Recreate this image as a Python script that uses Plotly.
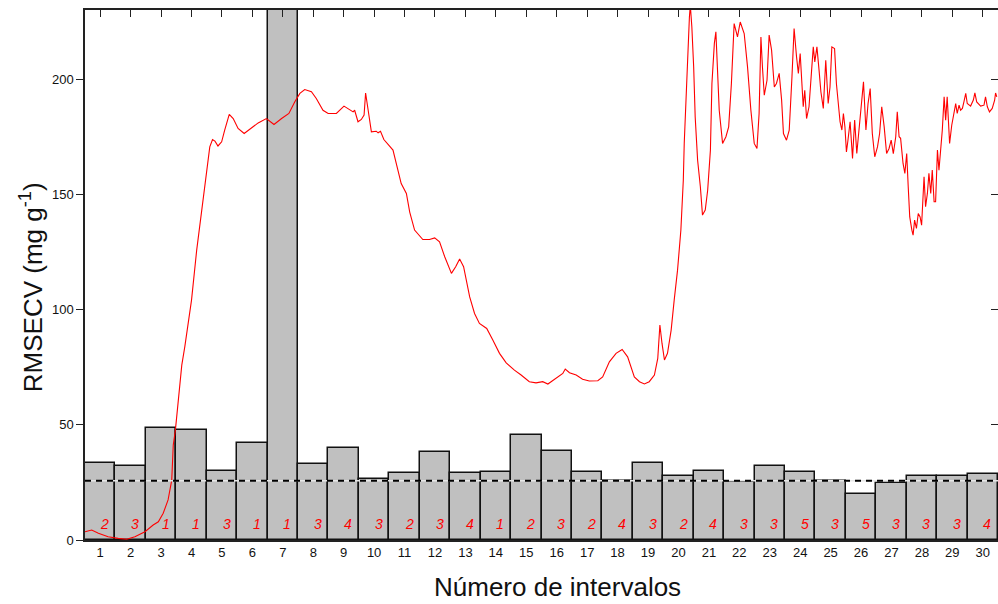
import plotly.graph_objects as go

intervals = list(range(1, 31))
rmsecv = [33.3, 32.0, 48.7, 47.7, 29.8, 42.1, 260.0, 33.1, 39.8, 26.5,
          28.9, 38.3, 28.9, 29.5, 45.4, 38.8, 29.5, 25.7, 33.3, 27.9,
          29.8, 25.3, 32.2, 29.5, 25.7, 20.0, 24.7, 27.9, 27.9, 28.5]
n_vl = [2, 3, 1, 1, 3, 1, 1, 3, 4, 3, 2, 3, 4, 1, 2, 3, 2, 4, 3, 2,
        4, 3, 3, 5, 3, 5, 3, 3, 3, 4]
global_rmsecv = 25.7

# mean spectrum drawn over the intervals (position in interval units, value in plot units)
spec_x = [0.50, 0.72, 0.94, 1.26, 1.59, 1.87, 2.14, 2.47, 2.74, 2.91, 3.07, 3.23, 3.35, 3.40,
          3.47, 3.57, 3.68, 3.78, 4.00, 4.17, 4.31, 4.42, 4.53, 4.60, 4.69, 4.77, 4.87, 4.99,
          5.09, 5.24, 5.37, 5.53, 5.73, 5.97, 6.19, 6.46, 6.71, 6.96, 7.20, 7.39, 7.56, 7.72,
          7.94, 8.10, 8.32, 8.49, 8.76, 9.01, 9.20, 9.31, 9.36, 9.47, 9.58, 9.67, 9.72, 9.80,
          9.91, 10.07, 10.13, 10.21, 10.32, 10.62, 10.78, 10.89, 11.06, 11.17, 11.33, 11.60,
          11.82, 11.99, 12.15, 12.32, 12.54, 12.68, 12.81, 12.94, 13.14, 13.30, 13.46, 13.70,
          13.90, 14.12, 14.34, 14.61, 14.83, 15.10, 15.32, 15.54, 15.71, 15.98, 16.20, 16.28,
          16.42, 16.64, 16.85, 17.07, 17.35, 17.51, 17.73, 17.95, 18.15, 18.33, 18.55, 18.72,
          18.88, 19.04, 19.21, 19.32, 19.39, 19.46, 19.54, 19.64, 19.76, 19.86, 19.97, 20.08,
          20.16, 20.19, 20.25, 20.30, 20.36, 20.39, 20.44, 20.50, 20.55, 20.63, 20.72, 20.79,
          20.88, 20.96, 21.05, 21.10, 21.18, 21.23, 21.28, 21.34, 21.45, 21.56, 21.65, 21.74,
          21.83, 21.89, 21.94, 22.03, 22.16, 22.27, 22.38, 22.49, 22.58, 22.65, 22.71, 22.76,
          22.82, 22.91, 22.98, 23.06, 23.15, 23.22, 23.31, 23.39, 23.45, 23.55, 23.64, 23.73,
          23.80, 23.88, 23.94, 24.00, 24.05, 24.10, 24.15, 24.21, 24.29, 24.37, 24.43, 24.48,
          24.55, 24.62, 24.68, 24.76, 24.84, 24.92, 24.98, 25.04, 25.13, 25.19, 25.26, 25.31,
          25.37, 25.42, 25.47, 25.52, 25.57, 25.64, 25.72, 25.79, 25.86, 25.94, 26.01, 26.08,
          26.16, 26.23, 26.30, 26.37, 26.45, 26.54, 26.61, 26.68, 26.76, 26.84, 26.92, 26.99,
          27.06, 27.14, 27.19, 27.25, 27.30, 27.38, 27.44, 27.50, 27.55, 27.60, 27.67, 27.71,
          27.76, 27.82, 27.88, 27.94, 27.99, 28.07, 28.12, 28.18, 28.23, 28.29, 28.34, 28.40,
          28.45, 28.51, 28.56, 28.62, 28.67, 28.73, 28.78, 28.83, 28.91, 28.98, 29.05, 29.11,
          29.16, 29.22, 29.27, 29.33, 29.38, 29.44, 29.49, 29.60, 29.69, 29.74, 29.80, 29.93,
          30.04, 30.09, 30.15, 30.22, 30.31, 30.39, 30.42, 30.46]
spec_y = [3.6, 4.3, 2.9, 1.4, 0.7, 0.3, 1.4, 3.6, 6.5, 7.9, 11.6, 17.4, 26.0, 41.2,
          47.7, 62.9, 75.9, 83.9, 104.1, 125.8, 140.2, 153.3, 164.8, 170.6, 173.8, 173.1, 171.0, 172.8,
          177.9, 184.7, 182.9, 178.6, 176.4, 178.6, 181.0, 182.9, 180.3, 182.9, 185.1, 190.1, 193.8, 195.5,
          194.5, 191.6, 186.5, 185.1, 185.1, 188.3, 186.8, 185.8, 186.5, 181.5, 182.5, 184.4, 194.0, 186.5,
          177.1, 177.4, 176.7, 177.4, 173.8, 169.2, 160.5, 154.7, 150.4, 142.3, 134.5, 130.4,
          130.4, 131.1, 129.4, 122.9, 115.7, 118.6, 121.9, 118.6, 105.5, 98.3, 94.0, 91.8,
          86.8, 81.0, 76.9, 73.7, 71.6, 68.7, 68.2, 68.7, 67.7, 70.4, 72.3, 74.2,
          72.6, 71.6, 69.8, 69.0, 69.1, 70.8, 77.3, 81.0, 82.7, 79.5, 70.8, 68.7,
          67.7, 68.7, 71.6, 78.8, 93.3, 85.3, 78.1, 81.0, 91.1, 104.1, 117.1, 134.5,
          156.2, 172.1, 190.9, 212.6, 227.0, 232.0, 222.7, 205.3, 183.6, 164.8, 153.3, 141.0,
          143.2, 151.8, 169.2, 198.1, 215.5, 220.5, 205.3, 186.5, 172.1, 175.0, 179.3, 198.1,
          224.1, 220.5, 218.3, 224.8, 219.8, 205.3, 186.5, 172.1, 169.9, 185.1, 218.3, 205.3,
          193.0, 199.5, 219.1, 212.6, 196.6, 198.1, 202.5, 190.9, 176.4, 173.5, 177.9, 201.0,
          222.0, 209.7, 202.5, 211.1, 201.0, 188.0, 195.2, 182.9, 188.0, 201.0, 214.0, 207.5,
          214.0, 203.9, 194.5, 187.3, 208.2, 189.4, 196.6, 214.0, 213.3, 198.1, 186.5, 181.5,
          177.9, 185.1, 179.3, 168.4, 173.5, 181.5, 165.6, 182.2, 167.7, 179.3, 188.0, 198.8,
          177.9, 189.4, 195.9, 176.4, 166.3, 170.6, 176.4, 188.0, 179.3, 167.7, 169.9, 173.5,
          167.7, 175.0, 185.8, 175.0, 174.3, 163.4, 159.1, 167.7, 153.3, 140.2, 134.5, 132.3,
          138.8, 135.2, 141.7, 140.2, 136.6, 157.6, 144.6, 150.4, 159.1, 150.4, 160.5, 146.8,
          146.8, 169.2, 160.5, 169.2, 177.9, 192.3, 182.2, 192.3, 172.1, 180.0, 184.4, 189.4,
          185.1, 188.7, 186.5, 187.3, 190.1, 193.8, 189.4, 188.3, 190.9, 194.0, 190.1, 188.3,
          188.7, 192.3, 188.0, 185.8, 187.3, 190.9, 194.0, 192.3]

x_title = "Número de intervalos"
y_title = "RMSECV (mg g<sup>-1</sup>)"

FONT = "Liberation Sans, Arial, sans-serif"

fig = go.Figure()

fig.add_trace(go.Bar(
    x=intervals, y=rmsecv, width=1.0,
    marker=dict(color="#C0C0C0", line=dict(color="#111111", width=1.5)),
    showlegend=False, hoverinfo="skip"))

fig.add_trace(go.Scatter(
    x=spec_x, y=spec_y, mode="lines",
    line=dict(color="#FF0000", width=1.1), showlegend=False, hoverinfo="skip"))

fig.add_trace(go.Scatter(
    x=[0.5, 30.5], y=[global_rmsecv, global_rmsecv], mode="lines",
    line=dict(color="#E8E8E8", width=1.5), showlegend=False, hoverinfo="skip"))
fig.add_trace(go.Scatter(
    x=[0.5, 30.5], y=[global_rmsecv, global_rmsecv], mode="lines",
    line=dict(color="#000000", width=2, dash="6px,5px"), showlegend=False, hoverinfo="skip"))

# invisible trace for mirror axes (top / right tick marks)
fig.add_trace(go.Scatter(x=[1], y=[0], xaxis="x2", yaxis="y2", mode="markers",
                         marker=dict(opacity=0), showlegend=False, hoverinfo="skip"))

for i, n in zip(intervals, n_vl):
    fig.add_annotation(x=i + 0.15, y=6.9, text=f"<i>{n}</i>", showarrow=False,
                       font=dict(family=FONT, size=14, color="#FF0000"),
                       xanchor="center", yanchor="middle")

fig.add_annotation(xref="paper", yref="paper", x=0.517, y=0, yshift=-47,
                   text=x_title, showarrow=False, xanchor="center", yanchor="middle",
                   font=dict(family=FONT, size=26, color="#111111"))
fig.add_annotation(xref="paper", yref="paper", x=0, y=0.477, xshift=-54,
                   text=y_title, showarrow=False, textangle=-90,
                   xanchor="center", yanchor="middle",
                   font=dict(family=FONT, size=26, color="#111111"))

fig.update_layout(
    width=998, height=604,
    margin=dict(l=85, r=0, t=10, b=64),
    paper_bgcolor="white", plot_bgcolor="white",
    bargap=0,
    font=dict(family=FONT, size=13, color="#111111"),
    xaxis=dict(range=[0.5, 30.5], tickmode="array", tickvals=intervals,
               ticktext=[str(i) for i in intervals], ticks="", showgrid=False,
               zeroline=False, showline=True, linecolor="#222222", linewidth=1.5,
               tickfont=dict(size=13)),
    yaxis=dict(range=[0, 230], tickvals=[0, 50, 100, 150, 200], ticks="outside",
               ticklen=7, tickwidth=1.2, tickcolor="#222222", showgrid=False,
               zeroline=False, showline=True, linecolor="#222222", linewidth=1.5,
               tickfont=dict(size=13)),
    xaxis2=dict(range=[0.5, 30.5], overlaying="x", side="top", tickmode="array",
                tickvals=intervals, ticks="inside", ticklen=7, tickwidth=1.2,
                tickcolor="#222222", showticklabels=False, showgrid=False,
                zeroline=False, showline=True, linecolor="#222222", linewidth=1.5),
    yaxis2=dict(range=[0, 230], overlaying="y", side="right", tickvals=[0, 50, 100, 150, 200],
                ticks="inside", ticklen=7, tickwidth=1.2, tickcolor="#222222",
                showticklabels=False, showgrid=False, zeroline=False,
                showline=True, linecolor="#222222", linewidth=1.5),
)

fig.write_html("out.html")
